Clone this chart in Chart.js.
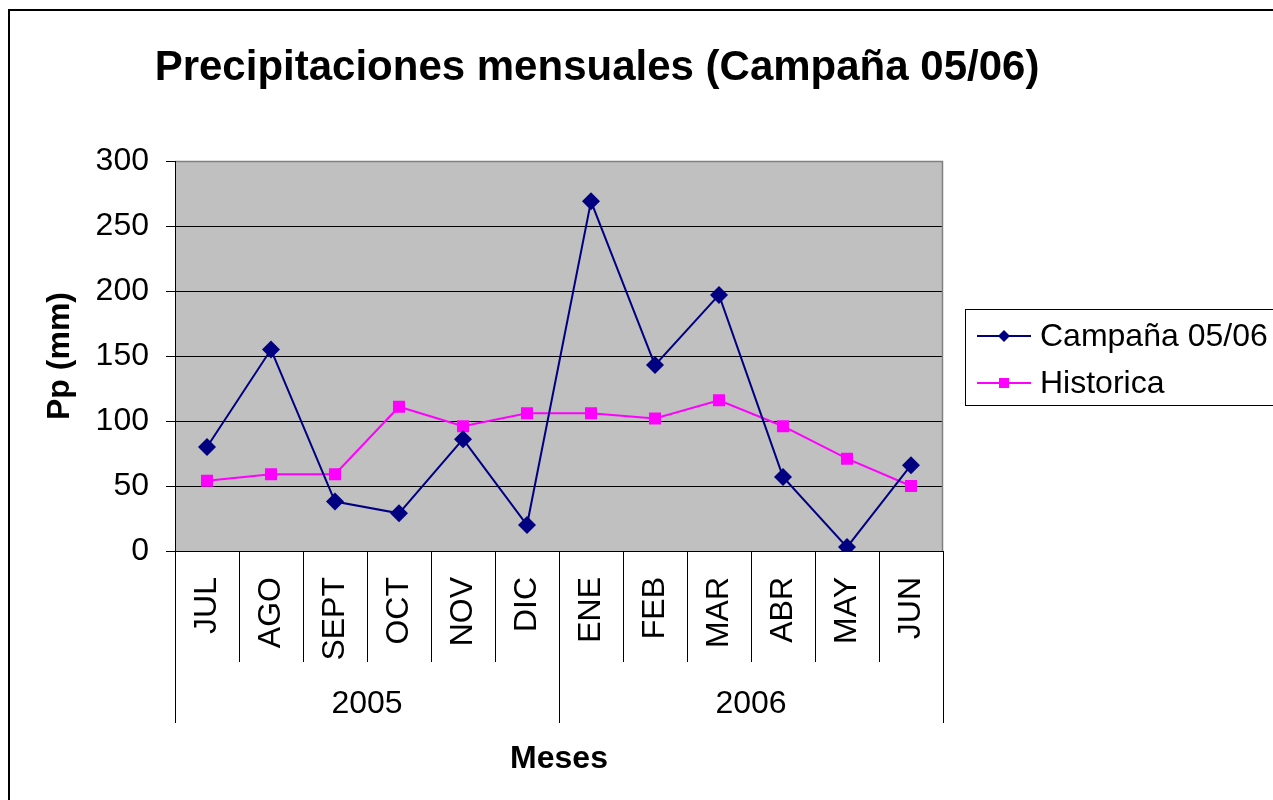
<!DOCTYPE html>
<html>
<head>
<meta charset="utf-8">
<title>Precipitaciones mensuales</title>
<script src="https://cdn.jsdelivr.net/npm/chart.js@4"></script>
<style>
  html, body { margin: 0; padding: 0; background: #fff; }
  #wrap { width: 1273px; height: 800px; }
</style>
</head>
<body>
<div id="wrap"><canvas id="ppChart" width="1273" height="800"></canvas></div>
<script>
// data
const meses = ['JUL', 'AGO', 'SEPT', 'OCT', 'NOV', 'DIC', 'ENE', 'FEB', 'MAR', 'ABR', 'MAY', 'JUN'];
const anios = ['2005', '2006'];
const mesesPorAnio = [6, 6];
const campana = [80, 155, 38, 29, 86, 20, 269, 143, 197, 57, 3, 66];
const historica = [54, 59, 59, 111, 96, 106, 106, 102, 116, 96, 71, 50];
const yTicks = [0, 50, 100, 150, 200, 250, 300];

const FONT = '"Liberation Sans", Arial, sans-serif';

// excel-like decorations: frame, titles, legend, grouped category axis
const excelDeco = {
    id: 'excelDeco',
    beforeDraw(chart) {
        const { ctx, chartArea: a } = chart;
        ctx.save();
        ctx.fillStyle = '#fff';
        ctx.fillRect(0, 0, chart.width, chart.height);
        ctx.fillStyle = '#c0c0c0';
        ctx.fillRect(a.left, a.top, a.right - a.left, a.bottom - a.top);
        ctx.restore();
    },
    afterDraw(chart) {
        const { ctx, chartArea: a } = chart;
        const x = chart.scales.x;
        ctx.save();

        // outer frame
        ctx.strokeStyle = '#000';
        ctx.lineWidth = 2;
        ctx.strokeRect(9, 10, chart.width + 10, chart.height + 10);

        // plot border (top / right gray)
        ctx.strokeStyle = '#808080';
        ctx.lineWidth = 1.5;
        ctx.beginPath();
        ctx.moveTo(a.left, a.top + 0.5);
        ctx.lineTo(a.right - 0.5, a.top + 0.5);
        ctx.lineTo(a.right - 0.5, a.bottom);
        ctx.stroke();

        // axis lines
        ctx.strokeStyle = '#000';
        ctx.lineWidth = 1;
        ctx.beginPath();
        ctx.moveTo(a.left + 0.5, a.top);
        ctx.lineTo(a.left + 0.5, a.bottom);
        ctx.moveTo(a.left, a.bottom + 0.5);
        ctx.lineTo(a.right, a.bottom + 0.5);
        ctx.stroke();

        // category separators
        const slot = (x.getPixelForValue(1) - x.getPixelForValue(0));
        ctx.beginPath();
        for (let i = 0; i <= meses.length; i++) {
            const px = Math.round(x.getPixelForValue(i) - slot / 2) + 0.5;
            ctx.moveTo(px, a.bottom);
            ctx.lineTo(px, a.bottom + 111);
        }
        // year group separators + labels
        let start = 0;
        const bounds = [start];
        mesesPorAnio.forEach(n => { start += n; bounds.push(start); });
        bounds.forEach(b => {
            const px = Math.round(x.getPixelForValue(b) - slot / 2) + 0.5;
            ctx.moveTo(px, a.bottom);
            ctx.lineTo(px, a.bottom + 172);
        });
        ctx.stroke();

        ctx.fillStyle = '#000';
        ctx.font = '32px ' + FONT;
        ctx.textAlign = 'center';
        ctx.textBaseline = 'middle';
        anios.forEach((yr, i) => {
            const l = x.getPixelForValue(bounds[i]) - slot / 2;
            const r = x.getPixelForValue(bounds[i + 1]) - slot / 2;
            ctx.fillText(yr, (l + r) / 2, a.bottom + 153);
        });

        // titles
        ctx.font = 'bold 42px ' + FONT;
        ctx.fillText('Precipitaciones mensuales (Campaña 05/06)', 597, 68);
        ctx.font = 'bold 32px ' + FONT;
        ctx.fillText('Meses', (a.left + a.right) / 2, 759);
        ctx.save();
        ctx.translate(60, 356);
        ctx.rotate(-Math.PI / 2);
        ctx.fillText('Pp (mm)', 0, 0);
        ctx.restore();

        // legend
        ctx.strokeStyle = '#000';
        ctx.lineWidth = 1;
        ctx.strokeRect(965.5, 309.5, 330, 96);
        ctx.font = '32px ' + FONT;
        ctx.textAlign = 'left';
        chart.data.datasets.forEach((ds, i) => {
            const ly = 336 + i * 47;
            ctx.strokeStyle = ds.borderColor;
            ctx.lineWidth = 2;
            ctx.beginPath();
            ctx.moveTo(977, ly);
            ctx.lineTo(1031, ly);
            ctx.stroke();
            ctx.fillStyle = ds.backgroundColor;
            ctx.beginPath();
            if (ds.pointStyle === 'rectRot') {
                ctx.moveTo(1004, ly - 6); ctx.lineTo(1010, ly);
                ctx.lineTo(1004, ly + 6); ctx.lineTo(998, ly);
            } else {
                ctx.rect(999, ly - 5, 10, 10);
            }
            ctx.fill();
            ctx.fillStyle = '#000';
            ctx.fillText(ds.label, 1040, ly + 1);
        });
        ctx.restore();
    }
};

const ctx = document.getElementById('ppChart').getContext('2d');
new Chart(ctx, {
    type: 'line',
    data: {
        labels: meses,
        datasets: [{
            label: 'Campaña 05/06',
            data: campana,
            borderColor: '#000080',
            backgroundColor: '#000080',
            borderWidth: 2,
            pointStyle: 'rectRot',
            pointRadius: 9,
            pointBorderWidth: 0,
            tension: 0
        }, {
            label: 'Historica',
            data: historica,
            borderColor: '#ff00ff',
            backgroundColor: '#ff00ff',
            borderWidth: 2,
            pointStyle: 'rect',
            pointRadius: 8.5,
            pointBorderWidth: 0,
            tension: 0
        }]
    },
    options: {
        responsive: false,
        animation: false,
        layout: { padding: { left: 0, top: 161, right: 330, bottom: 0 } },
        plugins: {
            legend: { display: false },
            title: { display: false },
            tooltip: { enabled: false }
        },
        scales: {
            x: {
                offset: true,
                grid: { display: false },
                border: { display: false },
                ticks: {
                    color: '#000',
                    font: { family: FONT, size: 32 },
                    minRotation: 90,
                    maxRotation: 90,
                    autoSkip: false,
                    padding: 18
                },
                afterFit(scale) { scale.height = 800 - 551; }
            },
            y: {
                min: 0,
                max: 300,
                afterBuildTicks(scale) { scale.ticks = yTicks.map(v => ({ value: v })); },
                grid: { color: '#000', lineWidth: 1, tickLength: 9, tickColor: '#000' },
                border: { display: false },
                ticks: {
                    color: '#000',
                    font: { family: FONT, size: 32 },
                    padding: 17
                },
                afterFit(scale) { scale.width = 175; }
            }
        }
    },
    plugins: [excelDeco]
});
</script>
</body>
</html>
